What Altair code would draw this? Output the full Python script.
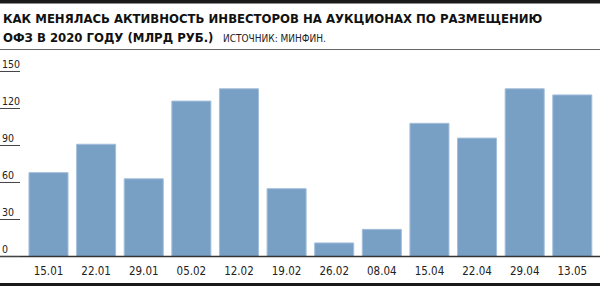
import altair as alt
import pandas as pd

dates = ["15.01", "22.01", "29.01", "05.02", "12.02", "19.02",
         "26.02", "08.04", "15.04", "22.04", "29.04", "13.05"]
values = [68, 91, 63, 126, 136, 55, 11, 22, 108, 96, 136, 131]
y_ticks = [0, 30, 60, 90, 120, 150]
title_1 = "КАК МЕНЯЛАСЬ АКТИВНОСТЬ ИНВЕСТОРОВ НА АУКЦИОНАХ ПО РАЗМЕЩЕНИЮ"
title_2 = "ОФЗ В 2020 ГОДУ (МЛРД РУБ.)"
source = "ИСТОЧНИК: МИНФИН."

FONT = "DejaVu Sans Condensed, Liberation Sans, sans-serif"

bars_df = pd.DataFrame({"date": dates, "value": values})
ticks_df = pd.DataFrame({"v": y_ticks})

# layout: band scale over full width, outer padding pushed left
xs = alt.Scale(domain=dates, paddingInner=0.18, paddingOuter=0.39, align=0.78)
# y domain stretched so 0 sits at y=256.5 px and 150 at y=71.5 px on a 286 px plot
ys = alt.Scale(domain=[-23.92, 207.97], zero=False, nice=False)

bars = alt.Chart(bars_df).mark_bar(color="#789fc4", stroke="#a3bfdb", strokeWidth=1).encode(
    x=alt.X("date:N", scale=xs, axis=None, sort=dates),
    y=alt.Y("value:Q", scale=ys, axis=None),
)

xlabels = alt.Chart(bars_df).mark_text(font=FONT, fontSize=11.5, color="#222",
                                        baseline="alphabetic", align="center").encode(
    x=alt.X("date:N", scale=xs, axis=None, sort=dates),
    y=alt.value(275),
    text="date:N",
)

tick_rules = alt.Chart(ticks_df).mark_rule(color="#444", strokeWidth=1).encode(
    y=alt.Y("v:Q", scale=ys, axis=None),
    x=alt.value(0),
    x2=alt.value(20),
)
tick_labels = alt.Chart(ticks_df).mark_text(font=FONT, fontSize=10.5, color="#222",
                                            baseline="alphabetic", align="left", dy=-3).encode(
    y=alt.Y("v:Q", scale=ys, axis=None),
    x=alt.value(2),
    text="v:Q",
)

baseline = alt.Chart(pd.DataFrame({"v": [0]})).mark_rule(color="#333", strokeWidth=1.5).encode(
    y=alt.Y("v:Q", scale=ys, axis=None),
    x=alt.value(0),
    x2=alt.value(600),
)

deco = pd.DataFrame({"a": [0]})
top_bar = alt.Chart(deco).mark_rect(color="#1a1a1a").encode(
    x=alt.value(0), x2=alt.value(600), y=alt.value(0), y2=alt.value(3.5))
bottom_bar = alt.Chart(deco).mark_rect(color="#1a1a1a").encode(
    x=alt.value(0), x2=alt.value(600), y=alt.value(283), y2=alt.value(286))
sep = alt.Chart(deco).mark_rule(color="#666", strokeWidth=1.2).encode(
    x=alt.value(0), x2=alt.value(600), y=alt.value(49.5))

t1 = alt.Chart(pd.DataFrame({"t": [title_1]})).mark_text(
    font=FONT, fontSize=13, fontWeight="bold", color="#111", align="left", baseline="alphabetic").encode(
    text="t:N", x=alt.value(3), y=alt.value(23))
t2 = alt.Chart(pd.DataFrame({"t": [title_2]})).mark_text(
    font=FONT, fontSize=13, fontWeight="bold", color="#111", align="left", baseline="alphabetic").encode(
    text="t:N", x=alt.value(3), y=alt.value(42))
t3 = alt.Chart(pd.DataFrame({"t": [source]})).mark_text(
    font=FONT, fontSize=10, color="#222", align="left", baseline="alphabetic").encode(
    text="t:N", x=alt.value(223), y=alt.value(42))

chart = alt.layer(top_bar, bottom_bar, sep, t1, t2, t3, bars, baseline, tick_rules, tick_labels, xlabels).properties(
    width=600, height=286, padding=0, autosize=alt.AutoSizeParams(type="none"),
    background="white",
).configure_view(stroke=None)

chart.save("out.html", embed_options={"renderer": "svg", "actions": False})
